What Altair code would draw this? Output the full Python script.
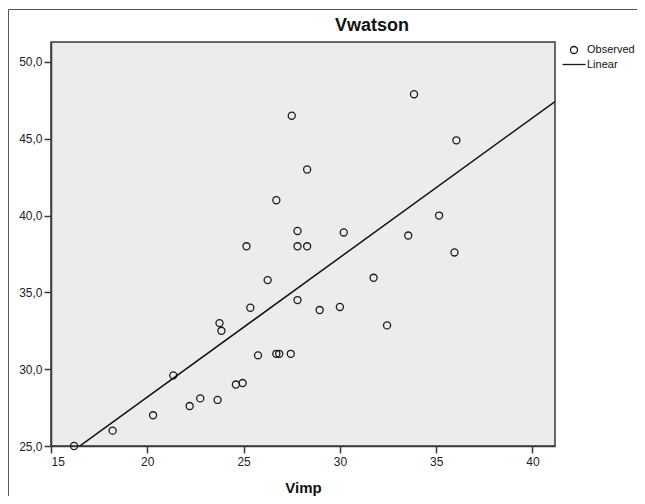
import altair as alt
import pandas as pd

vimp = [16.2, 18.2, 20.3, 21.35, 22.2, 22.75, 23.65, 23.75, 23.85, 24.6,
        24.95, 25.15, 25.35, 25.75, 26.25, 26.7, 26.85, 26.7, 27.45, 27.5,
        27.8, 27.8, 27.8, 28.3, 28.3, 28.95, 30.0, 30.2, 31.75, 32.45,
        33.55, 33.85, 35.15, 35.95, 36.05]
vwatson = [25.0, 26.0, 27.0, 29.6, 27.6, 28.1, 28.0, 33.0, 32.5, 29.0,
           29.1, 38.0, 34.0, 30.9, 35.8, 31.0, 31.0, 41.0, 31.0, 46.5,
           39.0, 38.0, 34.5, 38.0, 43.0, 33.85, 34.05, 38.9, 35.95, 32.85,
           38.7, 47.9, 40.0, 37.6, 44.9]
series_names = ["Observed", "Linear"]
x_ticks = [15, 20, 25, 30, 35, 40]
y_ticks = [25, 30, 35, 40, 45, 50]
x_range = [15, 41.17]
y_range = [25, 51.3]

df = pd.DataFrame({"Vimp": vimp, "Vwatson": vwatson, "series": "Observed"})

FONT = "Liberation Sans"

xenc = alt.X("Vimp:Q", scale=alt.Scale(domain=x_range, nice=False, zero=False),
             axis=alt.Axis(values=x_ticks, title="Vimp", grid=False, format="d"))
yenc = alt.Y("Vwatson:Q", scale=alt.Scale(domain=y_range, nice=False, zero=False),
             axis=alt.Axis(values=y_ticks, title=None, grid=False,
                           labelExpr="replace(format(datum.value, '.1f'), '.', ',')"))

points = alt.Chart(df).mark_point(
    filled=False, size=50, strokeWidth=1.3, color="#1a1a1a", opacity=1
).encode(
    x=xenc,
    y=yenc,
    shape=alt.Shape("series:N",
                    scale=alt.Scale(domain=series_names,
                                    range=["circle", "M-3.3,0L3.3,0"]),
                    legend=alt.Legend(title=None, orient="none", legendX=517.5, legendY=2.5,
                                      symbolSize=49, symbolStrokeWidth=1.3,
                                      symbolStrokeColor="#1a1a1a",
                                      symbolFillColor="transparent",
                                      labelFontSize=11, labelFont=FONT,
                                      labelColor="#111", rowPadding=1.5,
                                      labelOffset=7.5)),
)

line = alt.Chart(df).transform_regression(
    "Vimp", "Vwatson", extent=x_range
).mark_line(color="#111", strokeWidth=1.5, clip=True).encode(
    x="Vimp:Q", y="Vwatson:Q"
)

frame = alt.Chart(pd.DataFrame({"a": [0]})).mark_rect(
    fill="transparent", stroke="#555", strokeWidth=1, clip=False
).encode(
    x=alt.value(-42.5), x2=alt.value(900), y=alt.value(-32.5), y2=alt.value(900)
)

chart = alt.layer(frame, points, line).properties(
    width=504, height=404,
    title=alt.TitleParams("Vwatson", fontSize=18, font=FONT, fontWeight="bold",
                          color="#111", anchor="middle", dx=69, offset=9, dy=49,
                          frame="group", baseline="alphabetic"),
    autosize=alt.AutoSizeParams(type="none"),
    padding={"left": 43, "top": 34, "right": 82, "bottom": 50},
    background="white",
).configure_view(
    fill="#ececec", stroke="#3a3a3a", strokeWidth=1.5
).configure_axis(
    domainColor="#3a3a3a", domainWidth=1.5, tickColor="#3a3a3a", tickWidth=1.5,
    tickSize=7, labelFont=FONT, labelFontSize=12, labelColor="#222",
    titleFont=FONT, titleFontSize=15, titleFontWeight="bold", titleColor="#111",
).configure_axisX(labelPadding=3, titlePadding=13).configure_axisY(labelPadding=2)

chart.save("out.html", embed_options={"renderer": "svg", "actions": False})
